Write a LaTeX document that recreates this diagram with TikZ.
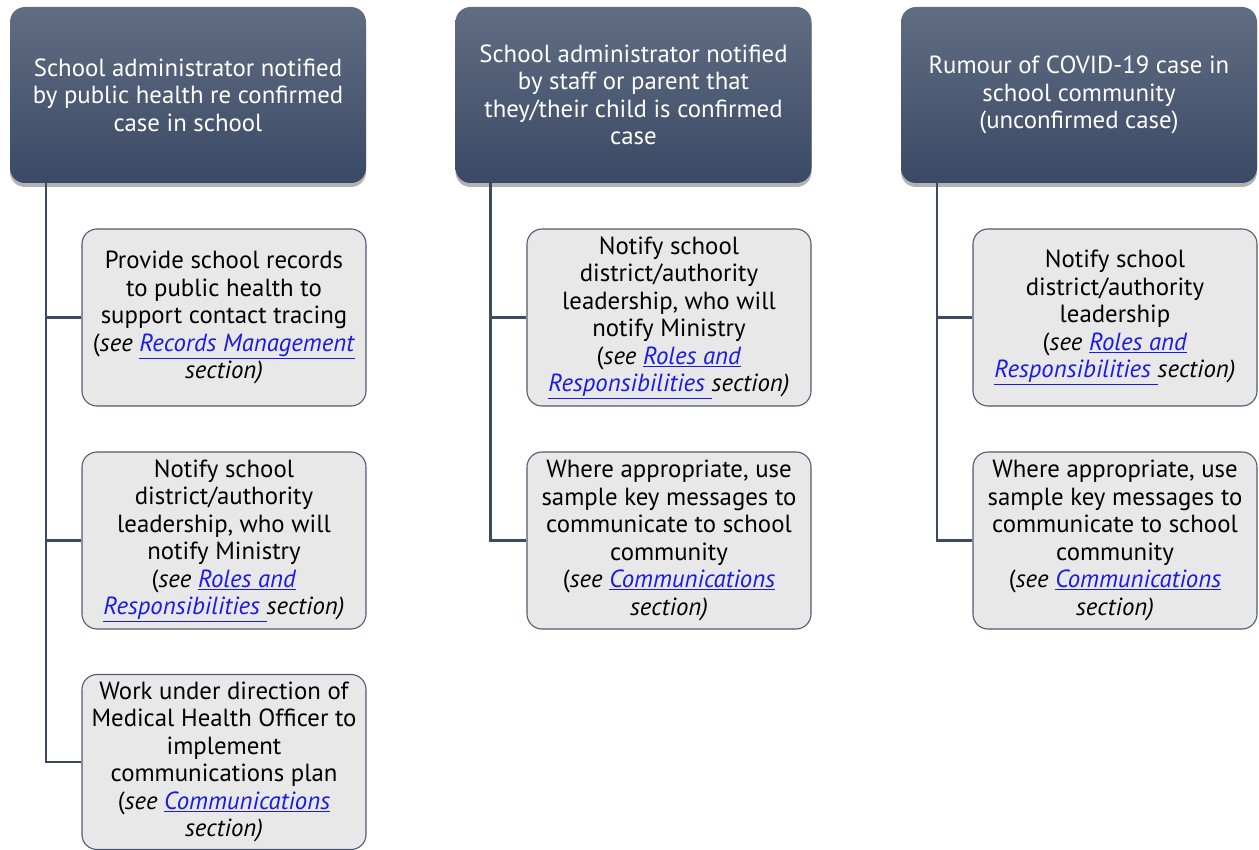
\documentclass[tikz,border=0pt]{standalone}
\usepackage{fontspec}
\setmainfont{PT Sans}
\usetikzlibrary{shadows,calc}
\definecolor{hdtop}{HTML}{616D83}
\definecolor{hdbot}{HTML}{3A4965}
\definecolor{conn}{HTML}{3D4A5F}
\definecolor{boxfill}{HTML}{E8E8E8}
\definecolor{boxline}{HTML}{4F5C72}
\definecolor{linkblue}{HTML}{1A1AE6}
\newcommand{\lnk}[1]{\textcolor{linkblue}{\underline{\textit{#1}}}}
\begin{document}
\begin{tikzpicture}[x=1pt,y=-1pt,
  header/.style={rectangle, rounded corners=15pt, minimum width=356pt, minimum height=176pt,
    top color=hdtop, bottom color=hdbot, draw=none, text=white, align=center,
    font=\fontsize{24.8}{27.5}\selectfont,
    drop shadow={shadow xshift=0pt, shadow yshift=-4pt, opacity=0.3, fill=black}},
  child/.style={rectangle, rounded corners=15pt, minimum width=284pt, minimum height=177pt,
    fill=boxfill, draw=boxline, line width=1.1pt, align=center, text=black,
    font=\fontsize{24.8}{27.5}\selectfont},
  connector/.style={draw=conn, line width=2.6pt}]
\useasboundingbox (0,0) rectangle (1259,850);

% headers
\node[header] (h1) at (188,95) {School administrator notified\\by public health re confirmed\\case in school};
\node[header] (h2) at (633.5,95) {School administrator notified\\by staff or parent that\\they/their child is confirmed\\case};
\node[header] (h3) at (1079,95) {Rumour of COVID-19 case in\\school community\\(unconfirmed case)};

% trunk coordinates
\coordinate (t1) at ($(h1.south west)+(36,0)$);
\coordinate (t2) at ($(h2.south west)+(35,0)$);
\coordinate (t3) at ($(h3.south west)+(36,0)$);

% column 1
\node[child] (c11) at (224,317.5) {Provide school records\\to public health to\\support contact tracing\\(\textit{see} \lnk{Records Management}\\\textit{section)}};
\node[child] (c12) at (224,540.5) {Notify school\\district/authority\\leadership, who will\\notify Ministry\\(\textit{see} \lnk{Roles and}\\\lnk{Responsibilities\ }\textit{section)}};
\node[child, minimum height=175pt] (c13) at (224,762) {Work under direction of\\Medical Health Officer to\\implement\\communications plan\\(\textit{see} \lnk{Communications}\\\textit{section)}};

% column 2
\node[child] (c21) at (669,317.5) {Notify school\\district/authority\\leadership, who will\\notify Ministry\\(\textit{see} \lnk{Roles and}\\\lnk{Responsibilities\ }\textit{section)}};
\node[child] (c22) at (669,540.5) {Where appropriate, use\\sample key messages to\\communicate to school\\community\\(\textit{see} \lnk{Communications}\\\textit{section)}};

% column 3
\node[child] (c31) at (1115,317.5) {Notify school\\district/authority\\leadership\\(\textit{see} \lnk{Roles and}\\\lnk{Responsibilities\ }\textit{section)}};
\node[child] (c32) at (1115,540.5) {Where appropriate, use\\sample key messages to\\communicate to school\\community\\(\textit{see} \lnk{Communications}\\\textit{section)}};

% connectors
\draw[connector] (t1) |- (c13.west);
\draw[connector] (c11.west) -- (c11.west -| t1);
\draw[connector] (c12.west) -- (c12.west -| t1);
\draw[connector] (t2) |- (c22.west);
\draw[connector] (c21.west) -- (c21.west -| t2);
\draw[connector] (t3) |- (c32.west);
\draw[connector] (c31.west) -- (c31.west -| t3);
\end{tikzpicture}
\end{document}
